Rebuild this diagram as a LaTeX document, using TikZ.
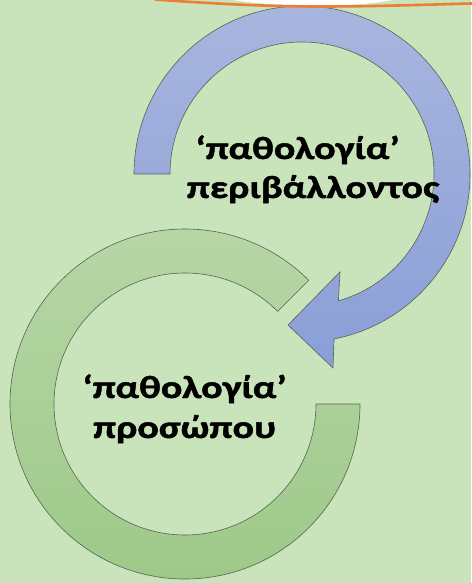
\documentclass[tikz,border=0pt]{standalone}
\usepackage{fontspec}
\newfontfamily\lblfont{Carlito Bold}[FakeStretch=1.25, FakeBold=1.5]
\usetikzlibrary{calc}
\definecolor{bg}{RGB}{201,227,186}
\definecolor{greentop}{RGB}{183,214,166}
\definecolor{greenbot}{RGB}{158,201,137}
\definecolor{bluetop}{RGB}{168,181,222}
\definecolor{bluebot}{RGB}{138,159,215}
\definecolor{ringedge}{RGB}{85,100,85}
\definecolor{orangeline}{RGB}{237,125,49}
\tikzset{
  greenring/.style={draw=ringedge, line width=0.6pt, top color=greentop, bottom color=greenbot},
  bluering/.style={draw=ringedge, line width=0.6pt, top color=bluetop, bottom color=bluebot},
  lbl/.style={font=\lblfont\fontsize{32}{40}\selectfont, inner sep=0pt, anchor=base, text=black}
}
\begin{document}
\begin{tikzpicture}[x=1pt,y=-1pt]
\useasboundingbox (0,0) rectangle (471,583);
\fill[bg] (0,0) rectangle (471,583);
% green ring (person)
\coordinate (gc) at (185,404);
\path[greenring] ($(gc)+(0:175)$) arc[start angle=0, end angle=315, radius=175]
  -- ($(gc)+(315:131)$) arc[start angle=315, end angle=0, radius=131] -- cycle;
% blue circular arrow (environment)
\coordinate (bc) at (302,174);
\coordinate (tip) at (288,325);
\coordinate (barbup) at (340,272);
\coordinate (barblow) at (333,368);
\path[bluering] ($(bc)+(180:132)$) -- ($(bc)+(180:168)$)
  arc[start angle=180, end angle=439, radius=168]
  -- (barblow) -- (tip) -- (barbup)
  -- ($(bc)+(434:132)$) arc[start angle=434, end angle=180, radius=132] -- cycle;
% orange edge at top
\fill[white] (232,0) .. controls (262,4.5) and (290,5.5) .. (318,5.5) .. controls (350,5.5) and (372,4) .. (392,0) -- cycle;
\draw[orangeline, line width=2.6pt] (155,-0.5) .. controls (230,5) and (280,6.5) .. (320,6.5) .. controls (380,6.5) and (430,4.5) .. (472,3.5);
% labels
\node[lbl] (env1) at (297.5,159) {‘παθολογία’};
\node[lbl] (env2) at (313,198) {περιβάλλοντος};
\node[lbl] (per1) at (184.5,398) {‘παθολογία’};
\node[lbl] (per2) at (184.5,438) {προσώπου};
\end{tikzpicture}
\end{document}
